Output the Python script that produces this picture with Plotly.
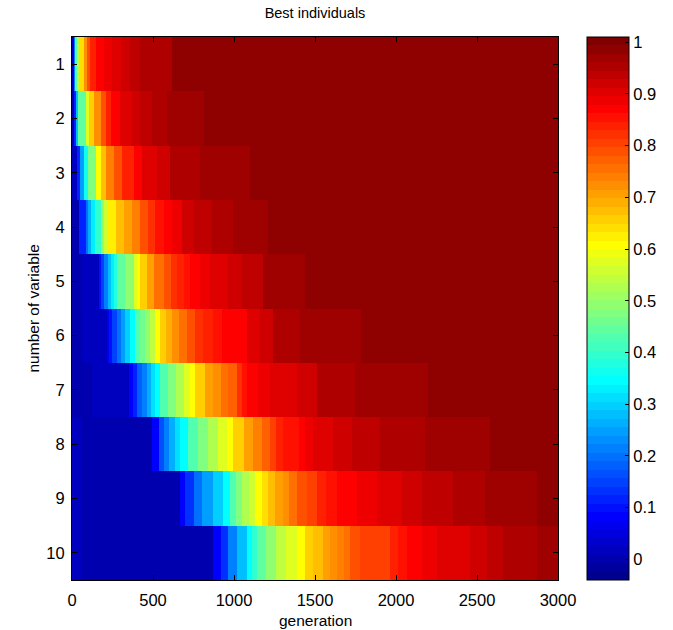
import numpy as np
import plotly.graph_objects as go

# Colour limits of the image and the colorbar
c_min, c_max = -0.04, 1.01
n_levels = 64

# Best-individual fitness per variable, as step functions of the generation:
# each row holds the generation where a level starts and the level value.
r1_start = [0, 10, 20, 33, 43, 74, 90, 111, 146, 197, 248, 300, 361, 422, 617]
r1_value = [0.02, 0.22, 0.42, 0.55, 0.64, 0.72, 0.79, 0.84, 0.87, 0.887, 0.903, 0.92, 0.936, 0.952, 0.985]

r2_start = [0, 12, 25, 37, 84, 105, 135, 176, 207, 238, 299, 371, 422, 494, 586, 812]
r2_value = [0.0, 0.12, 0.28, 0.45, 0.58, 0.66, 0.72, 0.79, 0.84, 0.87, 0.903, 0.92, 0.936, 0.952, 0.969, 0.985]

r3_start = [0, 29, 49, 74, 100, 146, 176, 207, 258, 310, 381, 433, 525, 607, 791, 1099]
r3_value = [0.02, 0.12, 0.25, 0.37, 0.48, 0.61, 0.67, 0.74, 0.79, 0.84, 0.87, 0.903, 0.92, 0.945, 0.969, 0.985]

r4_start = [0, 43, 84, 100, 115, 140, 176, 200, 217, 269, 320, 371, 422, 470, 515, 566, 620, 679, 750, 863, 996, 1208]
r4_value = [0.0, 0.12, 0.2, 0.26, 0.33, 0.4, 0.5, 0.56, 0.62, 0.67, 0.7, 0.74, 0.79, 0.82, 0.85, 0.87, 0.887, 0.92, 0.936, 0.952, 0.969, 0.985]

r5_start = [0, 53, 166, 180, 197, 220, 238, 260, 279, 330, 381, 400, 422, 460, 504, 566, 610, 648, 690, 726, 790, 850, 960, 1050, 1177, 1437]
r5_value = [0.0, 0.015, 0.1, 0.15, 0.22, 0.28, 0.33, 0.38, 0.45, 0.5, 0.58, 0.61, 0.66, 0.7, 0.75, 0.79, 0.82, 0.845, 0.86, 0.87, 0.887, 0.903, 0.92, 0.936, 0.969, 0.985]

r6_start = [0, 62, 216, 231, 246, 275, 300, 330, 359, 390, 420, 450, 480, 513, 544, 580, 620, 660, 708, 760, 811, 870, 924, 1078, 1160, 1242, 1406, 1786]
r6_value = [0.0, 0.015, 0.06, 0.1, 0.15, 0.2, 0.25, 0.3, 0.35, 0.42, 0.46, 0.5, 0.55, 0.61, 0.66, 0.69, 0.72, 0.75, 0.79, 0.82, 0.845, 0.86, 0.87, 0.903, 0.92, 0.952, 0.969, 0.985]

r7_start = [0, 123, 349, 375, 400, 430, 460, 490, 513, 544, 590, 640, 690, 729, 760, 820, 873, 920, 960, 1016, 1050, 1078, 1150, 1221, 1386, 1511, 1746, 2197]
r7_value = [0.0, 0.015, 0.08, 0.12, 0.18, 0.22, 0.27, 0.31, 0.35, 0.42, 0.48, 0.53, 0.57, 0.61, 0.66, 0.7, 0.73, 0.76, 0.78, 0.82, 0.85, 0.87, 0.887, 0.903, 0.92, 0.952, 0.969, 0.985]

r8_start = [0, 60, 493, 534, 567, 600, 634, 667, 719, 780, 840, 900, 955, 996, 1060, 1119, 1170, 1220, 1260, 1304, 1400, 1440, 1487, 1611, 1728, 1901, 2179, 2580]
r8_value = [0.015, 0.0, 0.08, 0.17, 0.22, 0.27, 0.31, 0.35, 0.42, 0.47, 0.52, 0.57, 0.61, 0.66, 0.7, 0.74, 0.77, 0.8, 0.83, 0.854, 0.87, 0.887, 0.903, 0.92, 0.936, 0.952, 0.969, 0.985]

r9_start = [0, 60, 667, 698, 750, 800, 870, 934, 975, 1010, 1050, 1090, 1129, 1170, 1211, 1255, 1300, 1340, 1386, 1450, 1511, 1570, 1635, 1760, 1882, 2036, 2160, 2351, 2549, 2871]
r9_value = [0.015, 0.0, 0.08, 0.14, 0.2, 0.25, 0.3, 0.35, 0.42, 0.47, 0.52, 0.56, 0.61, 0.64, 0.67, 0.7, 0.73, 0.76, 0.79, 0.81, 0.838, 0.854, 0.87, 0.887, 0.903, 0.92, 0.936, 0.952, 0.969, 0.985]

r10_start = [0, 60, 873, 920, 965, 1020, 1078, 1110, 1139, 1200, 1260, 1320, 1386, 1437, 1490, 1550, 1590, 1635, 1680, 1715, 1780, 1851, 1960, 2010, 2067, 2160, 2253, 2457, 2560, 2661, 2871]
r10_value = [0.015, 0.0, 0.08, 0.14, 0.22, 0.28, 0.35, 0.4, 0.45, 0.5, 0.54, 0.57, 0.61, 0.66, 0.68, 0.7, 0.72, 0.74, 0.76, 0.79, 0.8, 0.81, 0.84, 0.854, 0.87, 0.887, 0.903, 0.92, 0.936, 0.952, 0.969]

n_generations = 3000
variables = list(range(1, 11))
x_ticks = [0, 500, 1000, 1500, 2000, 2500, 3000]
cbar_ticks = [0, 0.1, 0.2, 0.3, 0.4, 0.5, 0.6, 0.7, 0.8, 0.9, 1]
cbar_labels = ["0", "0.1", "0.2", "0.3", "0.4", "0.5", "0.6", "0.7", "0.8", "0.9", "1"]

row_starts = [r1_start, r2_start, r3_start, r4_start, r5_start,
              r6_start, r7_start, r8_start, r9_start, r10_start]
row_values = [r1_value, r2_value, r3_value, r4_value, r5_value,
              r6_value, r7_value, r8_value, r9_value, r10_value]

# Common column edges: every step start of every row, plus the last generation
edges = sorted(set(g for s in row_starts for g in s) | {n_generations})
left = np.array(edges[:-1], dtype=float)
z = []
for s, v in zip(row_starts, row_values):
    idx = np.searchsorted(np.array(s), left, side="right") - 1
    z.append(np.array(v)[idx])
z = np.array(z)


def jet(m):
    """MATLAB-style jet colormap with m entries."""
    n = int(np.ceil(m / 4))
    u = np.concatenate([np.arange(1, n + 1) / n, np.ones(n - 1), np.arange(n, 0, -1) / n])
    g = int(np.ceil(n / 2)) - (1 if m % 4 == 1 else 0) + np.arange(1, len(u) + 1)
    r = g + n
    b = g - n
    cmap = np.zeros((m, 3))
    for idx_arr, ch in ((r, 0), (g, 1), (b, 2)):
        ok = (idx_arr >= 1) & (idx_arr <= m)
        cmap[idx_arr[ok] - 1, ch] = u[ok]
    return cmap


cmap = jet(n_levels)
colorscale = []
for k, (rr, gg, bb) in enumerate(cmap):
    col = "rgb(%d,%d,%d)" % (round(rr * 255), round(gg * 255), round(bb * 255))
    colorscale.append([k / n_levels, col])
    colorscale.append([(k + 1) / n_levels, col])

FONT = "Liberation Sans, Arial, Helvetica, sans-serif"
TICK_SIZE = 16.5
LABEL_SIZE = 15.5

W, H = 673, 630
ml, mr, mt, mb = 72, 115, 37, 50
plot_w = W - ml - mr
plot_h = H - mt - mb
cbar_left_px = 587
cbar_x = (cbar_left_px - ml) / plot_w
cbar_thick = 42

fig = go.Figure(go.Heatmap(
    x=edges,
    y=variables,
    z=z,
    zmin=c_min,
    zmax=c_max,
    colorscale=colorscale,
    zsmooth=False,
    colorbar=dict(
        x=cbar_x, xanchor="left", y=0.5, yanchor="middle",
        len=1, lenmode="fraction",
        thickness=cbar_thick, thicknessmode="pixels",
        xpad=0, ypad=0,
        outlinewidth=1, outlinecolor="black",
        ticks="inside", ticklen=4, tickcolor="black",
        tickvals=cbar_ticks, ticktext=cbar_labels,
        tickfont=dict(family=FONT, size=TICK_SIZE, color="black"),
    ),
))

# Tick marks on the left edge of the colorbar
for v in cbar_ticks:
    yy = (v - c_min) / (c_max - c_min)
    fig.add_shape(type="line", xref="paper", yref="paper",
                  x0=cbar_x, x1=cbar_x + 4 / plot_w, y0=yy, y1=yy,
                  line=dict(color="black", width=1))

axis_common = dict(
    showline=True, linecolor="black", linewidth=1, mirror="ticks",
    ticks="inside", ticklen=5, tickcolor="black",
    tickfont=dict(family=FONT, size=TICK_SIZE, color="black"),
    showgrid=False, zeroline=False,
)

# Axis titles
fig.add_annotation(text="generation", xref="paper", yref="paper",
                   x=0.5, y=-(620 - (H - mb)) / plot_h, xanchor="center", yanchor="middle",
                   showarrow=False, font=dict(family=FONT, size=LABEL_SIZE, color="black"))
fig.add_annotation(text="number of variable", xref="paper", yref="paper",
                   x=-(ml - 33) / plot_w, y=0.5, xanchor="center", yanchor="middle",
                   textangle=-90, showarrow=False,
                   font=dict(family=FONT, size=LABEL_SIZE, color="black"))

fig.update_layout(
    width=W, height=H,
    margin=dict(l=ml, r=mr, t=mt, b=mb),
    paper_bgcolor="white", plot_bgcolor="white",
    font=dict(family=FONT, size=14, color="black"),
    title=dict(text="Best individuals", x=0.5, xref="paper",
               y=1 - 13 / H, yref="container", yanchor="middle",
               font=dict(family=FONT, size=14.5, color="black")),
    xaxis=dict(range=[0, n_generations], tickvals=x_ticks, ticklabelstandoff=5,
               **axis_common),
    yaxis=dict(range=[10.5, 0.5], tickvals=variables, ticklabelstandoff=3,
               **axis_common),
)

fig.write_html("out.html")
